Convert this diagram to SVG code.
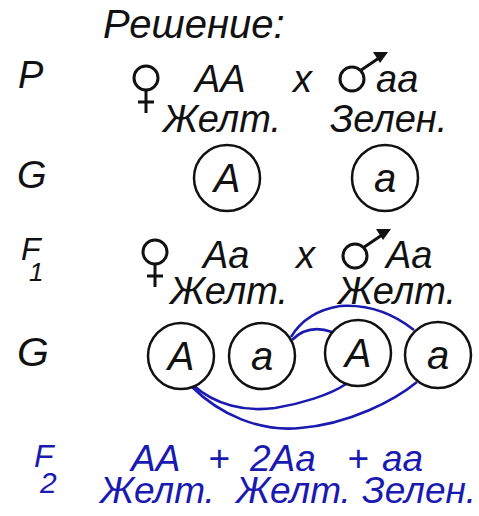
<svg xmlns="http://www.w3.org/2000/svg" width="479" height="516" viewBox="0 0 479 516">
<style>
text{font-family:"Liberation Sans",Arial,sans-serif;font-style:italic;font-size:38px;fill:#111}
.b{fill:#1a1ab0;font-size:37px}
.sym{fill:none;stroke:#111;stroke-width:3}
.g{fill:#fff;stroke:#111;stroke-width:2.5}
.gt{text-anchor:middle;font-size:40px}
.c{fill:none;stroke:#1a1ab0;stroke-width:2.6}
</style>
<defs>
<g id="fem"><circle cx="0" cy="0" r="12" class="sym"/><path d="M0 12V35M-8 24H8" class="sym"/></g>
<g id="mal"><circle cx="0" cy="0" r="12" class="sym"/><path d="M8.5 -8.5L27 -21" class="sym"/><path d="M36 -27L21 -27L28 -16Z" fill="#111"/></g>
</defs>
<rect width="479" height="516" fill="#fff"/>
<g id="title"><text x="103" y="38" style="font-size:40px">Решение:</text></g>
<g id="rowP">
<text x="18" y="88">P</text>
<use href="#fem" x="146" y="78"/>
<text x="195" y="92">AA</text>
<text x="293" y="92">x</text>
<use href="#mal" x="352" y="79"/>
<text x="376" y="92">aa</text>
<text x="163" y="132">Желт.</text>
<text x="330" y="132">Зелен.</text>
</g>
<g id="rowG1">
<text x="17" y="188">G</text>
<g id="gA"><circle cx="227" cy="178" r="33" class="g"/><text class="gt" x="227" y="192">A</text></g>
<g id="ga"><circle cx="385" cy="178" r="33" class="g"/><text class="gt" x="385" y="192">a</text></g>
</g>
<g id="rowF1">
<text x="21" y="260" style="font-size:32px">F</text><text x="29" y="281" style="font-size:26px">1</text>
<use href="#fem" x="155" y="252"/>
<text x="203" y="268">Aa</text>
<text x="296" y="268">x</text>
<use href="#mal" x="355" y="256"/>
<text x="386" y="268">Aa</text>
<text x="170" y="304">Желт.</text>
<text x="338" y="304">Желт.</text>
</g>
<g id="connectors">
<path class="c" d="M291 337C300 322 315 310 340 306C370 304 395 315 414 330"/>
<path class="c" d="M292 340C302 330 315 326 332 332"/>
<path class="c" d="M193 385C215 405 245 412 275 408C300 404 330 395 346 384"/>
<path class="c" d="M191 386C220 415 260 432 300 428C350 424 395 400 417 382"/>
</g>
<g id="rowG2">
<text x="17" y="366" style="font-size:41px">G</text>
<g id="g1"><circle cx="181" cy="356" r="33" class="g"/><text class="gt" x="181" y="370">A</text></g>
<g id="g2"><circle cx="262" cy="356" r="33" class="g"/><text class="gt" x="262" y="370">a</text></g>
<g id="g3"><circle cx="358" cy="353" r="33" class="g"/><text class="gt" x="358" y="367">A</text></g>
<g id="g4"><circle cx="438" cy="355" r="33" class="g"/><text class="gt" x="438" y="369">a</text></g>
</g>
<g id="rowF2">
<text class="b" x="34" y="467" style="font-size:32px">F</text><text class="b" x="40" y="493" style="font-size:30px">2</text>
<text class="b" x="131" y="471">AA</text>
<text class="b" x="208" y="471">+</text>
<text class="b" x="250" y="471">2Aa</text>
<text class="b" x="347" y="471">+</text>
<text class="b" x="382" y="471">aa</text>
<text class="b" x="100" y="503">Желт.</text>
<text class="b" x="236" y="503">Желт.</text>
<text class="b" x="362" y="503">Зелен.</text>
</g>
</svg>
